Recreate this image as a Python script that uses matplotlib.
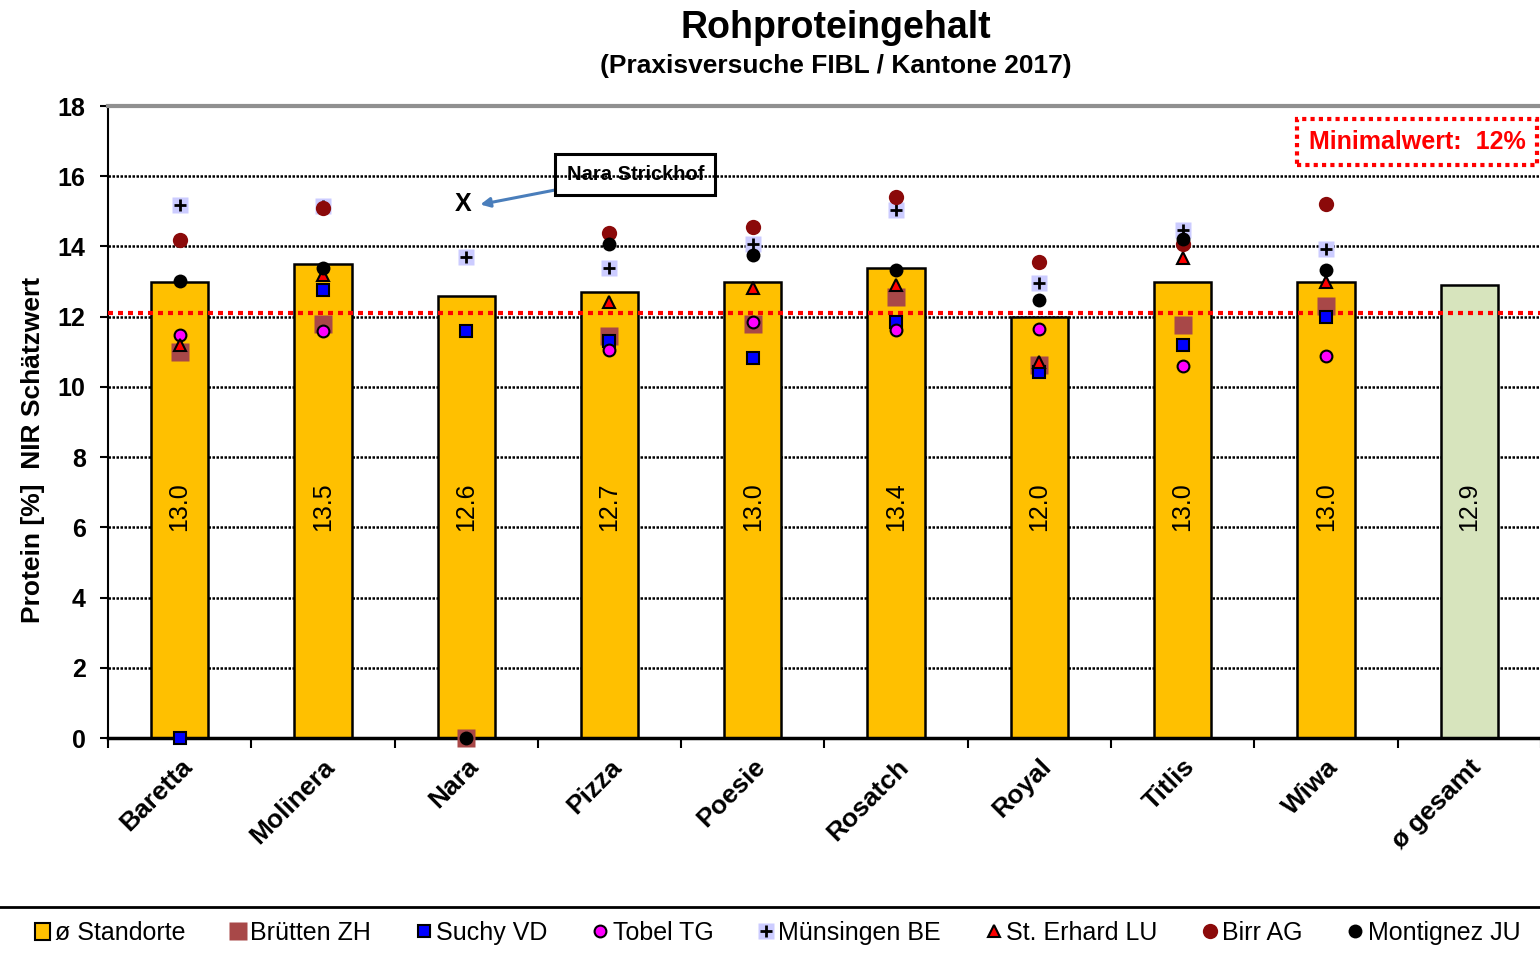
import numpy as np
import matplotlib.pyplot as plt
from matplotlib.lines import Line2D

plt.rcParams['font.family'] = ['Liberation Sans', 'DejaVu Sans']

sorten = ["Baretta", "Molinera", "Nara", "Pizza", "Poesie", "Rosatch",
          "Royal", "Titlis", "Wiwa", "ø gesamt"]
mittel = [13.0, 13.5, 12.6, 12.7, 13.0, 13.4, 12.0, 13.0, 13.0, 12.9]

nan = np.nan
# one value per variety (without "ø gesamt")
standorte = {
    "Brütten ZH":    [11.0, 11.8, 0.0, 11.45, 11.8, 12.55, 10.63, 11.75, 12.3],
    "Suchy VD":      [0.0, 12.75, 11.6, 11.3, 10.83, 11.85, 10.43, 11.2, 12.0],
    "Tobel TG":      [11.48, 11.6, nan, 11.05, 11.85, 11.62, 11.65, 10.6, 10.88],
    "Münsingen BE":  [15.18, 15.15, 13.7, 13.39, 14.07, 15.04, 12.96, 14.47, 13.93],
    "St. Erhard LU": [11.2, 13.2, nan, 12.42, 12.82, 12.9, 10.72, 13.67, 13.0],
    "Birr AG":       [14.19, 15.1, nan, 14.38, 14.56, 15.41, 13.56, 14.08, 15.21],
    "Montignez JU":  [13.02, 13.4, 0.0, 14.07, 13.76, 13.33, 12.48, 14.22, 13.33],
}
nara_strickhof = 15.2
minimalwert = 12.1

fig = plt.figure(figsize=(15.4, 9.55), dpi=100)
ax = fig.add_axes([0.0701, 0.2272, 0.9351, 0.6618])

x = np.arange(len(sorten))
farben = ["#FFC000"] * (len(sorten) - 1) + ["#D7E4BD"]
ax.bar(x, mittel, width=0.4, color=farben, edgecolor="black", linewidth=1.8, zorder=2)
for xi, v in zip(x, mittel):
    ax.text(xi, 6.6, f"{v:.1f}", rotation=90, ha="center", va="center",
            fontsize=18, zorder=3)

xs = x[:-1]
stil = {
    "Brütten ZH":    dict(marker="s", color="#A84848", ms=13, mec="none"),
    "Suchy VD":      dict(marker="s", color="#0000FF", ms=8, mec="black", mew=1.5),
    "Tobel TG":      dict(marker="o", color="#FF00FF", ms=8.5, mec="black", mew=1.5),
    "St. Erhard LU": dict(marker="^", color="#FF0000", ms=8.5, mec="black", mew=1.5),
    "Birr AG":       dict(marker="o", color="#8B0A0A", ms=11, mec="none"),
    "Montignez JU":  dict(marker="o", color="black", ms=10, mec="none"),
}
handles = [plt.Rectangle((0, 0), 1, 1, fc="#FFC000", ec="black", lw=1.5)]
labels = ["ø Standorte"]
for name, werte in standorte.items():
    if name == "Münsingen BE":
        h1, = ax.plot(xs, werte, ls="none", marker="s", color="#CCCCFF", ms=11,
                      mec="none", zorder=4, clip_on=False)
        h2, = ax.plot(xs, werte, ls="none", marker="+", color="black", ms=9,
                      mew=2, zorder=4, clip_on=False)
        handles.append((h1, h2))
    else:
        h, = ax.plot(xs, werte, ls="none", zorder=4, clip_on=False, **stil[name])
        handles.append(h)
    labels.append(name)

# Nara Strickhof
ax.text(1.98, nara_strickhof, "X", ha="center", va="center", fontsize=18,
        fontweight="bold", zorder=5)
ax.annotate("Nara Strickhof", xy=(2.08, nara_strickhof - 0.02), xytext=(3.18, 16.05),
            ha="center", va="center", fontsize=14.5, fontweight="bold", zorder=0,
            bbox=dict(boxstyle="square,pad=0.55", fc="none", ec="black", lw=2.2),
            arrowprops=dict(arrowstyle="-|>", color="#4A7EBB", lw=2.2, shrinkA=0,
                            mutation_scale=14))

ax.axhline(minimalwert, color="red", ls=(0, (1.2, 1.2)), lw=3, zorder=3)
ax.text(7.88, 16.98, "Minimalwert:  12%", color="red", fontsize=18, fontweight="bold",
        ha="left", va="center", zorder=5,
        bbox=dict(boxstyle="square,pad=0.45", fc="white", ec="red", lw=3, ls=(0, (1, 1))))

ax.set_ylim(0, 18)
ax.set_xlim(-0.5, 9.55)
ax.set_yticks(np.arange(0, 19, 2))
ax.set_yticklabels([str(v) for v in range(0, 19, 2)], fontsize=18, fontweight="bold")
for yv in range(2, 18, 2):
    ax.axhline(yv, color="black", ls=(0, (1, 0.6)), lw=1.8, zorder=1)
ax.set_xticks(x)
ax.set_xticklabels(sorten, rotation=45, ha="right", rotation_mode="anchor",
                   fontsize=19, fontweight="bold")
ax.tick_params(axis="x", length=0, pad=12)
ax.set_xticks(np.arange(-0.5, 9.6, 1), minor=True)
ax.tick_params(axis="x", which="minor", length=7, width=1.5)
ax.tick_params(axis="y", length=6, width=1.5, pad=10)

ax.spines["right"].set_visible(False)
ax.spines["top"].set_color("#909090")
ax.spines["top"].set_linewidth(3)
ax.spines["left"].set_linewidth(1.5)
ax.spines["bottom"].set_linewidth(2.5)

ax.set_ylabel("Protein [%]  NIR Schätzwert", fontsize=19, fontweight="bold")
ax.yaxis.set_label_coords(-0.044, 0.456)

fig.text(0.543, 0.971, "Rohproteingehalt", ha="center", va="center", fontsize=27,
         fontweight="bold")
fig.text(0.543, 0.931, "(Praxisversuche FIBL / Kantone 2017)", ha="center", va="center",
         fontsize=19, fontweight="bold")

fig.add_artist(Line2D([0, 1], [1 - 907 / 955, 1 - 907 / 955], color="black", lw=2))
fig.legend(handles, labels, loc="center", bbox_to_anchor=(0.505, 1 - 933 / 955), ncol=8,
           frameon=False, fontsize=18, handlelength=0.6, handletextpad=0.2,
           columnspacing=1.8)

fig.savefig("out.png", dpi=100)
